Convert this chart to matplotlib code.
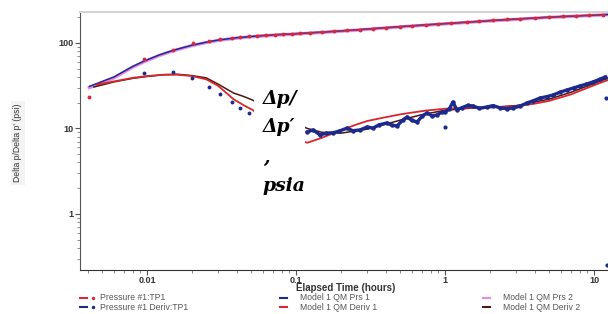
import matplotlib.pyplot as plt
from matplotlib.lines import Line2D
from matplotlib.patches import Rectangle
from matplotlib.ticker import NullFormatter

# measured pressure (red dots)
p_t = [0.0041, 0.0095, 0.0149, 0.0204, 0.026, 0.031, 0.037, 0.042, 0.048, 0.055, 0.063,
       0.072, 0.082, 0.094, 0.107, 0.125, 0.15, 0.18, 0.22, 0.27, 0.33, 0.4, 0.5, 0.6,
       0.75, 0.9, 1.1, 1.4, 1.7, 2.1, 2.6, 3.2, 4.0, 5.0, 6.2, 7.6, 9.3, 11.5]
p_v = [23.5, 65, 83, 100, 105, 110, 113, 117, 120, 122, 123.5,
       125, 126.5, 128, 130, 132, 134, 137, 140, 143, 147, 151, 155, 159,
       163, 167, 171, 175, 179, 184, 188, 192, 196, 200, 204, 208, 211, 214]

# measured derivative (navy dots)
d_early_t = [0.0095, 0.015, 0.02, 0.026, 0.031, 0.037, 0.042, 0.048]
d_early_v = [45, 46, 39, 30.6, 25.3, 20.5, 17.3, 15.2]
d_t = [0.119, 0.13, 0.145, 0.16, 0.177, 0.195, 0.22, 0.24, 0.269, 0.3, 0.329, 0.36,
       0.408, 0.44, 0.477, 0.52, 0.556, 0.6, 0.649, 0.7, 0.757, 0.82, 0.883, 0.95,
       1.0, 1.07, 1.13, 1.2, 1.3, 1.42, 1.54, 1.7, 1.91, 2.1, 2.34, 2.6, 2.86, 3.2,
       3.55, 3.9, 4.34, 4.8, 5.31, 5.9, 6.59, 7.3, 8.05, 8.9, 9.85, 10.9, 11.9]
d_v = [9.1, 9.6, 8.4, 8.8, 8.9, 9.3, 10.1, 9.4, 9.6, 10.4, 10.1, 11.0,
       11.6, 10.9, 10.7, 12.5, 13.6, 12.4, 11.9, 13.8, 15.2, 14.0, 14.4, 15.5,
       15.6, 17.0, 20.4, 16.5, 17.5, 18.6, 18.3, 17.2, 17.8, 18.5, 17.4, 17.0, 17.4, 18.2,
       19.9, 21.0, 22.7, 23.5, 24.6, 26.5, 28.2, 29.8, 31.4, 33.0, 35.0, 37.5, 40]
d_odd_t = [1.0, 12.1, 12.2]
d_odd_v = [10.4, 22.7, 0.25]

# model curves
m_t = [0.0041, 0.006, 0.008, 0.0095, 0.012, 0.015, 0.02, 0.025, 0.03, 0.04, 0.05,
       0.07, 0.1, 0.2, 0.5, 1, 2, 5, 10, 13]
prs1 = [31, 40, 53, 61, 72, 82, 94, 102, 108, 115, 119,
        124, 128, 138, 155, 168, 182, 200, 211, 216]
prs2 = [30, 39, 52, 60, 71, 81, 93, 101, 107, 114, 118,
        123, 127, 137, 154, 167, 181, 199, 210, 215]

dv1_t = [0.0046, 0.006, 0.008, 0.01, 0.013, 0.016, 0.02, 0.025, 0.03, 0.035, 0.038,
         0.045, 0.051, 0.07, 0.09, 0.119, 0.15, 0.2, 0.25, 0.3, 0.38, 0.5, 0.58,
         0.75, 1, 1.5, 2, 3, 4, 5, 7, 10, 13]
dv1 = [32.5, 35.5, 39, 41, 42.5, 42.5, 41, 37.5, 31.5, 25, 22,
       18.5, 16.5, 11, 8, 6.8, 7.8, 9.5, 11, 12.2, 13.3, 14.6, 15.2,
       16.2, 17, 17.5, 17.6, 18.2, 19.5, 21, 25, 32, 38]
dv2_t = [0.0044, 0.006, 0.008, 0.01, 0.013, 0.016, 0.02, 0.025, 0.03, 0.038, 0.045,
         0.051, 0.07, 0.09, 0.119, 0.15, 0.2, 0.3, 0.4, 0.5, 0.7, 1, 1.5, 2, 3, 5,
         7, 10, 13]
dv2 = [30.5, 35, 38.5, 40.5, 42.5, 43, 41.5, 39, 33, 26, 23.5,
       21.5, 16, 12.5, 10, 9.0, 8.8, 9.8, 11.2, 12.5, 14.5, 16.3, 17.3, 17.6, 18.5, 22,
       26.5, 33.5, 40]

RED = "#d42a3c"
NAVY = "#1c2a8e"
PINK = "#e58ce6"
DARK = "#4a1810"
MRED = "#d8262c"

W, H = 608, 314
fig = plt.figure(figsize=(6.08, 3.14), dpi=100)
ax = fig.add_axes([80 / W, 44 / H, 532 / W, 258 / H])
ax.set_xscale("log")
ax.set_yscale("log")

ax.plot(m_t, prs2, color=PINK, lw=2.4)
ax.plot(m_t, prs1, color=NAVY, lw=1.1)
ax.plot(dv2_t, dv2, color=DARK, lw=1.1)
ax.plot(dv1_t, dv1, color=MRED, lw=1.3)
ax.plot(p_t, p_v, "o", color=RED, ms=2.8, mec="none")
ax.plot(p_t[9:], p_v[9:], "-", color=RED, lw=1.2, alpha=0.7)
ax.plot(d_early_t, d_early_v, "o", color=NAVY, ms=2.8, mec="none")
ax.plot(d_t, d_v, "o-", color=NAVY, ms=3.2, lw=2.4, mec="none")
ax.plot(d_odd_t, d_odd_v, "o", color=NAVY, ms=3, mec="none")

ax.set_xlim(0.00355, 13.2)
ax.set_ylim(0.221, 230)
ax.set_xticks([0.01, 0.1, 1, 10], ["0.01", "0.1", "1", "10"])
ax.set_yticks([1, 10, 100], ["1", "10", "100"])
ax.xaxis.set_minor_formatter(NullFormatter())
ax.yaxis.set_minor_formatter(NullFormatter())
for lab in ax.get_xticklabels() + ax.get_yticklabels():
    lab.set_family("Liberation Sans")
    lab.set_fontweight("bold")
    lab.set_fontsize(6.5)
    lab.set_color("#333333")
ax.tick_params(which="major", length=3.5, width=0.8, color="#555555", pad=1.5)
ax.tick_params(which="minor", length=2.2, width=0.6, color="#777777")
ax.tick_params(axis="x", which="major", pad=0.5)
ax.spines["right"].set_visible(False)
ax.spines["top"].set_color("#d4d4d4")
ax.spines["top"].set_linewidth(1.5)
ax.spines["left"].set_color("#555555")
ax.spines["bottom"].set_color("#333333")
ax.set_xlabel("Elapsed Time (hours)", family="Liberation Sans", fontweight="bold",
              fontsize=7, color="#333333", va="center")
ax.xaxis.set_label_coords(0.5, (270 - 288) / 258)

fig.text(18 / W, 1 - 143 / H, "Delta p/Delta p' (psi)", rotation=90, ha="center", va="center",
         family="Liberation Sans", fontsize=6.2, color="#333333",
         bbox=dict(facecolor="#f3f3f3", edgecolor="none", pad=2))

# white box with the overlay label
fig.add_artist(Rectangle((254 / W, 1 - 215 / H), 51 / W, 133 / H, transform=fig.transFigure,
                         facecolor="white", edgecolor="none", zorder=5))
for txt, yb in [("Δp/", 104), ("Δp′", 132), (",", 163), ("psia", 191)]:
    fig.text(263 / W, 1 - yb / H, txt, family="DejaVu Serif", fontweight="bold",
             style="italic", fontsize=13.5, va="baseline", ha="left", zorder=6)

# legend
legend_rows = [
    (80, 298, RED, True, "Pressure #1:TP1"),
    (80, 307, NAVY, True, "Pressure #1 Deriv:TP1"),
    (280, 298, NAVY, False, "Model 1 QM Prs 1"),
    (280, 307, MRED, False, "Model 1 QM Deriv 1"),
    (483, 298, PINK, False, "Model 1 QM Prs 2"),
    (483, 307, DARK, False, "Model 1 QM Deriv 2"),
]
for x0, y0, col, dot, label in legend_rows:
    yf = 1 - y0 / H
    fig.add_artist(Line2D([x0 / W, (x0 + 7) / W], [yf, yf], transform=fig.transFigure,
                          color=col, lw=1.5))
    if dot:
        fig.add_artist(Line2D([93 / W], [yf], transform=fig.transFigure, marker="o",
                              color=col, ms=2.5, mec="none"))
        tx = 100
    else:
        tx = x0 + 20
    fig.text(tx / W, yf, label, family="Liberation Sans", fontsize=6.2, color="#555555",
             va="center", ha="left")

fig.savefig("out.png", dpi=100)
